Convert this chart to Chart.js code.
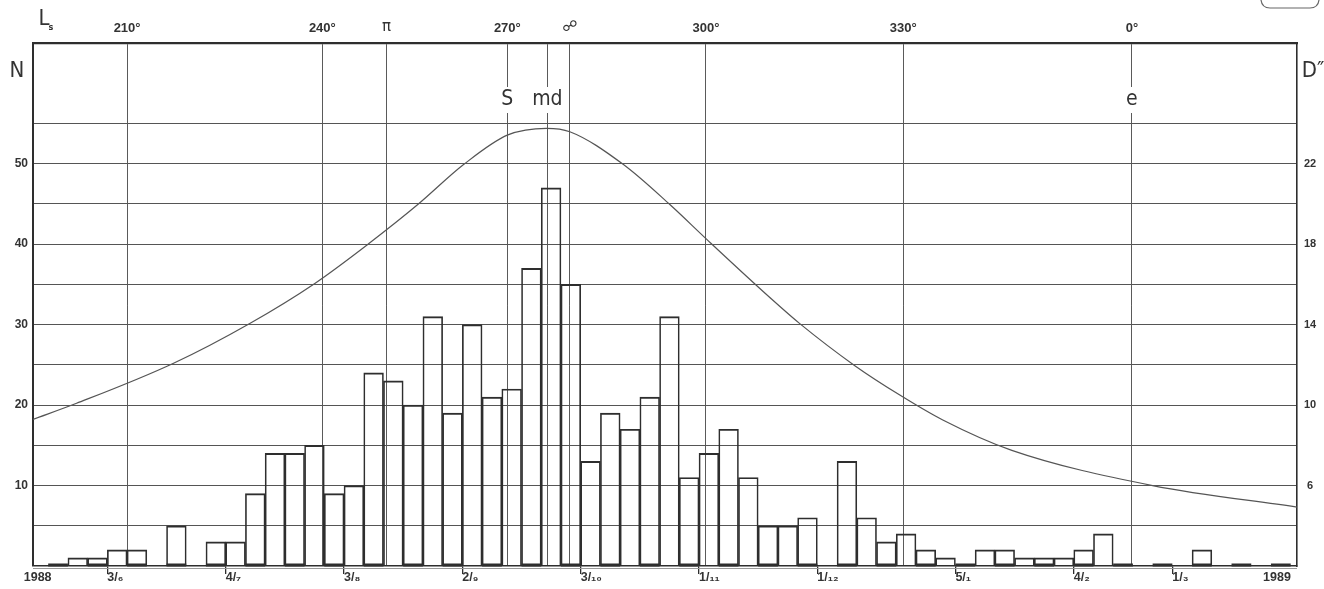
<!DOCTYPE html>
<html>
<head>
<meta charset="utf-8">
<script src="https://cdn.jsdelivr.net/npm/chart.js@4.4.1/dist/chart.umd.min.js"></script>
<style>
	html, body { margin: 0; padding: 0; background: #fff; }
</style>
</head>
<body>
<canvas id="chart" width="1324" height="589"></canvas>
<script>
// five-day bins, numbered from mid-May 1988 (bin k covers k..k+1 on the x axis)
const bins = [0, 1, 2, 3, 4, 5, 6, 7, 8, 9, 10, 11, 12, 13, 14, 15, 16, 17, 18, 19, 20,
	21, 22, 23, 24, 25, 26, 27, 28, 29, 30, 31, 32, 33, 34, 35, 36, 37, 38, 39, 40, 41,
	42, 43, 44, 45, 46, 47, 48, 49, 50, 51, 52, 53, 54, 55, 56, 57, 58, 59, 60, 61, 62];
const counts = [0, 1, 1, 2, 2, 0, 5, 0, 3, 3, 9, 14, 14, 15, 9, 10, 24, 23, 20, 31, 19,
	30, 21, 22, 37, 47, 35, 13, 19, 17, 21, 31, 11, 14, 17, 11, 5, 5, 6, 0, 13, 6,
	3, 4, 2, 1, 0, 2, 2, 1, 1, 1, 2, 4, 0, 0, 0, 0, 2, 0, 0, 0, 0];

// apparent diameter D" of Mars (x in bins, y in arcsec)
const diamX = [-0.77, 1.44, 6.33, 10.22, 13.52, 16.31, 18.74, 21.08, 23.31, 25.27, 26.45,
	29.15, 31.52, 33.38, 36.59, 38.11, 40.9, 43.18, 45.36, 48.86, 56.0, 63.32];
const diamY = [9.29, 10.09, 12.07, 14.06, 16.05, 18.07, 19.97, 21.97, 23.43, 23.76, 23.59,
	21.97, 19.97, 18.25, 15.35, 14.05, 11.96, 10.5, 9.26, 7.75, 6.0, 4.93];

const xMin = -0.77;
const xMax = 63.32;

// bottom axis: dates at bin edges, years at the ends
const dateTickPos = [3, 9, 15, 21, 27, 33, 39, 46, 52, 57];
const dateTickLabels = ['3/₆', '4/₇', '3/₈', '2/₉', '3/₁₀', '1/₁₁', '1/₁₂', '5/₁', '4/₂', '1/₃'];
const yearPos = [-1.24, 61.6];
const yearLabels = ['1988', '1989'];

// top axis: areocentric longitude Ls and events
const lsTickPos = [4.0, 13.9, 17.15, 23.28, 25.31, 26.45, 33.35, 43.35, 54.95];
const lsTickLabels = ['210°', '240°', 'π', '270°', '', '☍', '300°', '330°', '0°'];
const markPos = [23.28, 25.31, 54.95];
const markLabels = ['S', 'md', 'e'];

const nGrid = [0, 5, 10, 15, 20, 25, 30, 35, 40, 45, 50, 55];
const nTickLabels = [10, 20, 30, 40, 50];
const dTicks = [6, 10, 14, 18, 22];

const ink = '#2e2e2e';
const condFont = '"DejaVu Sans Condensed", "DejaVu Sans", sans-serif';
const sans = '"Liberation Sans", Arial, sans-serif';

const bottomTicks = dateTickPos.map((v, i) => ({ value: v, label: dateTickLabels[i], year: false }))
	.concat(yearPos.map((v, i) => ({ value: v, label: yearLabels[i], year: true })));

const decor = {
	id: 'decor',
	afterDatasetsDraw(chart) {
		const { ctx, chartArea: a, scales } = chart;
		ctx.save();
		// thick bottoms under every other bin
		ctx.fillStyle = ink;
		bins.forEach((k) => {
			if (k % 2 !== 0) return;
			const x0 = scales.x.getPixelForValue(k);
			const x1 = scales.x.getPixelForValue(k + 1);
			ctx.fillRect(x0, a.bottom - 2.5, x1 - x0, 3);
		});
		ctx.strokeStyle = '#9a9a9a';
		ctx.lineWidth = 1;
		ctx.beginPath();
		ctx.moveTo(a.left, a.bottom + 2.5);
		ctx.lineTo(a.right, a.bottom + 2.5);
		ctx.stroke();
		ctx.restore();
	},
	afterDraw(chart) {
		const { ctx, scales } = chart;
		ctx.save();
		ctx.textAlign = 'center';
		ctx.textBaseline = 'middle';
		ctx.font = '21px ' + condFont;
		markPos.forEach((v, i) => {
			const px = scales.x2.getPixelForValue(v);
			const w = ctx.measureText(markLabels[i]).width;
			ctx.fillStyle = '#fff';
			ctx.fillRect(px - w / 2 - 3, 87, w + 6, 26);
			ctx.fillStyle = '#333';
			ctx.fillText(markLabels[i], px, 100);
		});

		// axis titles
		ctx.font = '22px ' + condFont;
		ctx.fillText('N', 17, 71);
		ctx.fillText('D″', 1313, 71);
		ctx.fillText('L', 44, 19);
		ctx.font = 'bold 9px ' + condFont;
		ctx.fillText('s', 51, 28);

		// bit of a frame cut off at the top right
		ctx.strokeStyle = '#666';
		ctx.lineWidth = 1.2;
		ctx.beginPath();
		ctx.moveTo(1261, 0);
		ctx.quadraticCurveTo(1262, 8, 1270, 8);
		ctx.lineTo(1310, 8);
		ctx.quadraticCurveTo(1318, 8, 1319, 0);
		ctx.stroke();
		ctx.restore();
	},
};

new Chart(document.getElementById('chart'), {
	type: 'bar',
	data: {
		datasets: [
			{
				type: 'line',
				label: 'D"',
				data: diamX.map((x, i) => ({ x: x, y: diamY[i] })),
				xAxisID: 'x',
				yAxisID: 'y2',
				borderColor: '#555',
				borderWidth: 1.2,
				pointRadius: 0,
				cubicInterpolationMode: 'monotone',
				order: 0,
			},
			{
				label: 'N',
				data: bins.map((k, i) => ({ x: k + 0.5, y: counts[i] })),
				xAxisID: 'x',
				yAxisID: 'y',
				backgroundColor: 'rgba(255,255,255,0)',
				borderColor: ink,
				borderWidth: { top: 1.3, left: 1, right: 1, bottom: 0 },
				borderSkipped: false,
				barPercentage: 1,
				categoryPercentage: 1,
				order: 1,
			},
		],
	},
	options: {
		responsive: false,
		animation: false,
		layout: { padding: 0 },
		plugins: {
			legend: { display: false },
			tooltip: { enabled: false },
		},
		scales: {
			x: {
				type: 'linear',
				position: 'bottom',
				min: xMin,
				max: xMax,
				offset: false,
				afterFit: (s) => { s.height = 23; },
				afterBuildTicks: (s) => { s.ticks = bottomTicks.map((t) => ({ value: t.value })); },
				grid: {
					offset: false,
					drawOnChartArea: false,
					drawTicks: true,
					tickLength: 8,
					lineWidth: 1.3,
					color: (c) => (c.index !== undefined && bottomTicks[c.index] && bottomTicks[c.index].year ? 'rgba(0,0,0,0)' : ink),
				},
				border: { display: true, color: ink, width: 1.5 },
				ticks: {
					autoSkip: false,
					maxRotation: 0,
					minRotation: 0,
					align: 'start',
					padding: -3.5,
					color: '#333',
					font: { family: sans, size: 12.5, weight: 'bold' },
					callback: (v, i) => bottomTicks[i].label,
				},
			},
			x2: {
				type: 'linear',
				position: 'top',
				min: xMin,
				max: xMax,
				offset: false,
				afterFit: (s) => { s.height = 43; },
				afterBuildTicks: (s) => { s.ticks = lsTickPos.map((v) => ({ value: v })); },
				grid: {
					offset: false,
					drawOnChartArea: true,
					drawTicks: false,
					color: '#5a5a5a',
					lineWidth: 1,
				},
				border: { display: true, color: ink, width: 2.2 },
				ticks: {
					autoSkip: false,
					maxRotation: 0,
					minRotation: 0,
					padding: 7,
					color: '#333',
					font: (c) => (lsTickLabels[c.index] === 'π' || lsTickLabels[c.index] === '☍'
						? { family: '"DejaVu Sans", sans-serif', size: 15 }
						: { family: sans, size: 13, weight: 'bold' }),
					callback: (v, i) => lsTickLabels[i],
				},
			},
			y: {
				type: 'linear',
				position: 'left',
				min: 0,
				max: 65,
				afterFit: (s) => { s.width = 33; },
				afterBuildTicks: (s) => { s.ticks = nGrid.map((v) => ({ value: v })); },
				grid: {
					drawTicks: false,
					color: '#555',
					lineWidth: 1.1,
				},
				border: { display: true, color: ink, width: 2 },
				ticks: {
					padding: 5,
					color: '#333',
					font: { family: sans, size: 12, weight: 'bold' },
					callback: (v) => (nTickLabels.includes(v) ? String(v) : ''),
				},
			},
			y2: {
				type: 'linear',
				position: 'right',
				min: 2,
				max: 28,
				afterFit: (s) => { s.width = 27; },
				afterBuildTicks: (s) => { s.ticks = dTicks.map((v) => ({ value: v })); },
				grid: { drawOnChartArea: false, drawTicks: false },
				border: { display: true, color: ink, width: 1.6 },
				ticks: {
					padding: 7,
					crossAlign: 'center',
					color: '#333',
					font: { family: sans, size: 11, weight: 'bold' },
				},
			},
		},
	},
	plugins: [decor],
});
</script>
</body>
</html>
